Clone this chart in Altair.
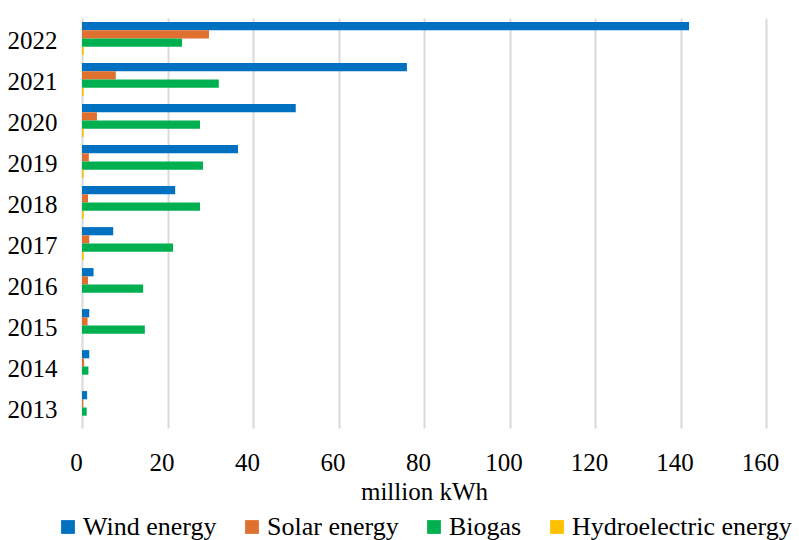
import altair as alt
import pandas as pd

years = ["2022", "2021", "2020", "2019", "2018", "2017", "2016", "2015", "2014", "2013"]
series = ["Wind energy", "Solar energy", "Biogas", "Hydroelectric energy"]
wind = [142, 76, 50, 36.5, 21.8, 7.3, 2.7, 1.7, 1.7, 1.2]
solar = [29.7, 7.9, 3.5, 1.6, 1.4, 1.7, 1.4, 1.3, 0.5, 0.3]
biogas = [23.4, 32.0, 27.6, 28.3, 27.6, 21.3, 14.3, 14.7, 1.5, 1.1]
hydro = [0.4, 0.4, 0.4, 0.4, 0.4, 0.4, 0.0, 0.0, 0.0, 0.0]
colors = ["#0070C0", "#E07030", "#00B050", "#FFC000"]

rows = []
for name, vals in zip(series, [wind, solar, biogas, hydro]):
    for y, v in zip(years, vals):
        rows.append({"year": y, "source": name, "value": v})
df = pd.DataFrame(rows)

font = "Liberation Serif"
fs = 25

chart = alt.Chart(df).mark_bar().encode(
    y=alt.Y("year:N", sort=years,
            scale=alt.Scale(paddingInner=0.2, paddingOuter=0.1),
            axis=alt.Axis(title=None, domain=False, ticks=False, grid=False,
                          labelFontSize=fs, labelFont=font, labelColor="#000000",
                          labelPadding=25, labelOffset=2)),
    x=alt.X("value:Q", scale=alt.Scale(domain=[0, 160], nice=False),
            axis=alt.Axis(title="million kWh", values=list(range(0, 161, 20)),
                          domain=False, ticks=False, grid=True,
                          gridColor="#D9D9D9", gridWidth=2,
                          labelFontSize=fs, labelFont=font, labelColor="#000000",
                          labelPadding=22, labelOffset=-6, labelFlush=False,
                          titleFontSize=fs, titleFont=font,
                          titleFontWeight="normal", titleColor="#000000",
                          titlePadding=4)),
    yOffset=alt.YOffset("source:N", sort=series, scale=alt.Scale(domain=series)),
    color=alt.Color("source:N", sort=series,
                    scale=alt.Scale(domain=series, range=colors),
                    legend=alt.Legend(title=None, orient="none", direction="horizontal",
                                      legendX=-27, legendY=496,
                                      symbolType="square", symbolSize=190,
                                      symbolStrokeWidth=0, labelLimit=400,
                                      labelFontSize=26, labelFont=font,
                                      labelColor="#000000", labelOffset=2,
                                      columnPadding=22)),
).properties(
    width=684, height=410,
    padding={"left": 82, "top": 18, "right": 33, "bottom": 112},
    autosize=alt.AutoSizeParams(type="none"),
).configure_view(stroke=None)

chart.save("out.html", embed_options={"renderer": "svg", "actions": False})
